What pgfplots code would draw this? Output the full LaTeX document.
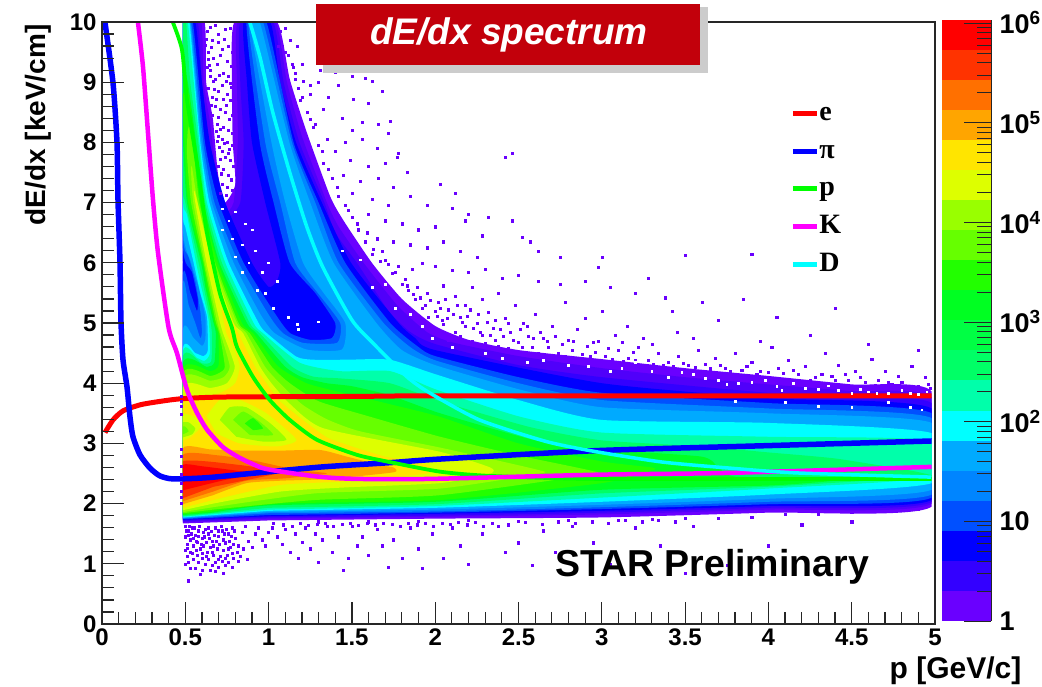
\documentclass[border=0pt]{standalone}
\usepackage{fontspec}
\usepackage{pgfplots}
\pgfplotsset{compat=1.18}
\setmainfont{Liberation Sans}
\newfontfamily\legfont{Liberation Serif}
\definecolor{c1}{HTML}{6A00FF}\definecolor{c2}{HTML}{5000FA}\definecolor{c3}{HTML}{3300FF}
\definecolor{c4}{HTML}{0000FF}\definecolor{c5}{HTML}{0050FF}\definecolor{c6}{HTML}{0085FF}
\definecolor{c7}{HTML}{00AAFF}\definecolor{c8}{HTML}{00FFFF}\definecolor{c9}{HTML}{00FFAA}
\definecolor{c10}{HTML}{00FF66}\definecolor{c11}{HTML}{00FF22}\definecolor{c12}{HTML}{22FF00}
\definecolor{c13}{HTML}{66FF00}\definecolor{c14}{HTML}{99FF00}\definecolor{c15}{HTML}{DDFF00}
\definecolor{c16}{HTML}{FFE500}\definecolor{c17}{HTML}{FFA500}\definecolor{c18}{HTML}{FF7000}
\definecolor{c19}{HTML}{FF3300}\definecolor{c20}{HTML}{FF0000}\definecolor{c10b}{HTML}{00FF44}
\definecolor{banner}{HTML}{C2000B}\definecolor{kaon}{HTML}{FF00FF}\definecolor{proton}{HTML}{00FF00}
\newcommand{\expo}[1]{\raisebox{9pt}{\fontsize{19}{19}\bfseries\selectfont #1}}
\begin{document}
\begin{tikzpicture}
\useasboundingbox (0,0) rectangle (1042pt,687pt);
% histogram contours
\begin{axis}[
  at={(102pt,63pt)},anchor=south west,scale only axis,width=833pt,height=602pt,
  xmin=0,xmax=5,ymin=0,ymax=10,hide axis,
  every axis plot/.append style={draw=none,forget plot,smooth,tension=0.35},
]
\clip (axis cs:.485,0) rectangle (axis cs:4.98,10);
\addplot[fill=c1] coordinates {(.485,1.67)(.485,10)(.615,10)(.625,9)(.665,8.4)(.695,7.5)(.735,7)(.80,7.3)(.785,8)(.78,9)(.795,10)(1.05,10)(1.127,9.05)(1.23,8.16)(1.37,7.1)(1.45,6.7)(1.62,6)(1.8,5.4)(2,4.95)(2.2,4.72)(2.5,4.55)(3,4.4)(3.5,4.25)(4,4.12)(4.5,3.98)(4.98,3.86)(4.98,1.95)(4,1.85)(3,1.77)(2,1.75)(1,1.72)};
\addplot[fill=c2] coordinates {(.485,1.69)(.485,10)(.595,10)(.61,9)(.65,8.3)(.685,7.5)(.73,6.85)(.79,7)(.815,8)(.81,9)(.815,10)(1.04,10)(1.11,9)(1.2,8.1)(1.35,7)(1.42,6.6)(1.57,6)(1.77,5.3)(1.95,4.85)(2.1,4.68)(2.5,4.45)(3,4.25)(3.5,4.1)(4,3.98)(4.5,3.87)(4.98,3.76)(4.98,2)(4,1.9)(3,1.82)(2,1.78)(1,1.75)};
\addplot[fill=c3] coordinates {(.485,1.71)(.485,10)(.575,10)(.6,9)(.635,8.2)(.675,7.5)(.74,6.75)(.83,7)(.85,8)(.83,9)(.83,10)(1.027,10)(1.09,9)(1.185,8)(1.335,7)(1.4,6.5)(1.53,6)(1.72,5.2)(1.85,4.85)(2,4.65)(2.5,4.3)(3,4.1)(4,3.84)(4.98,3.67)(4.98,2.03)(4,1.93)(3,1.85)(2,1.8)(1,1.77)};
\addplot[fill=c4] coordinates {(.485,1.73)(.485,5.9)(.51,5.87)(.5,6.05)(.485,6.15)(.485,10)(.56,10)(.6,9)(.647,8)(.74,7)(.9,6)(1,5.6)(1.05,5.7)(1.07,6)(.98,7)(.9,8)(.87,9)(.85,10)(1.01,10)(1.07,9)(1.165,8)(1.32,7)(1.495,6)(1.78,5)(1.88,4.75)(2,4.55)(3,4)(4,3.75)(4.98,3.58)(4.98,2.06)(4,1.96)(3,1.88)(2,1.83)(1,1.79)};
\addplot[fill=c5] coordinates {(.485,1.74)(.485,5.75)(.53,5.5)(.57,5.2)(.575,5.4)(.54,5.85)(.485,6.3)(.485,10)(.545,10)(.618,8)(.7,7)(.85,6)(1.05,5.11)(1.13,4.83)(1.25,4.72)(1.38,4.75)(1.4,5)(1.28,5.5)(1.127,6)(1.03,7)(.947,8)(.867,10)(.987,10)(1.15,8)(1.3,7)(1.46,6)(1.73,5)(1.9,4.6)(2,4.45)(2.5,4.1)(3,3.84)(4,3.67)(4.98,3.5)(4.98,2.1)(4,1.99)(3,1.91)(2,1.85)(1,1.81)};
\addplot[fill=c6] coordinates {(.485,1.75)(.485,5.6)(.52,5.3)(.56,5)(.59,4.75)(.6,4.85)(.59,5.2)(.56,5.7)(.52,6.1)(.485,6.5)(.485,10)(.535,10)(.608,8)(.675,7)(.82,6)(1.007,5.11)(1.087,4.83)(1.207,4.67)(1.41,4.67)(1.43,5)(1.295,5.5)(1.16,6)(1.07,7)(.98,8)(.877,10)(.967,10)(1.14,8)(1.28,7)(1.42,6)(1.69,5)(1.85,4.6)(2,4.38)(2.5,4)(3,3.72)(4,3.58)(4.98,3.42)(4.98,2.15)(4,2.03)(3,1.94)(2,1.87)(1,1.84)};
\addplot[fill=c7] coordinates {(.485,1.76)(.485,4.85)(.55,4.75)(.6,4.62)(.62,4.72)(.62,5.1)(.58,5.6)(.535,6)(.485,6.6)(.485,10)(.53,10)(.598,8)(.66,7)(.79,6)(.95,5.15)(1.037,4.83)(1.227,4.56)(1.44,4.56)(1.46,5)(1.33,5.5)(1.207,6)(1.1,7)(1.017,8)(.887,10)(.947,10)(1.125,8)(1.25,7)(1.39,6)(1.647,5)(1.8,4.55)(2,4.3)(2.5,3.9)(3,3.6)(4,3.5)(4.98,3.34)(4.98,2.23)(4,2.08)(3,1.98)(2,1.9)(1,1.86)};
\addplot[fill=c8] coordinates {(.485,1.77)(.485,4.55)(.56,4.5)(.61,4.45)(.635,4.55)(.63,5.1)(.59,5.5)(.55,6)(.5,6.6)(.485,6.9)(.485,10)(.525,10)(.59,8)(.645,7)(.76,6)(.94,5)(.99,4.83)(1.167,4.44)(1.27,4.39)(1.47,4.39)(1.727,4.39)(2,4.15)(2.5,3.72)(3,3.39)(4,3.34)(4.98,3.17)(4.98,2.34)(4,2.15)(3,2.03)(2,1.93)(1,1.88)};
\addplot[fill=c9] coordinates {(.485,1.78)(.485,4.5)(.57,4.42)(.615,4.37)(.648,4.5)(.64,5.05)(.6,5.55)(.565,6)(.51,6.8)(.485,7.1)(.485,10)(.515,10)(.585,8)(.63,7)(.74,6)(.91,5)(.967,4.83)(1.187,4.34)(1.43,4.2)(1.73,4.2)(2,3.9)(2.5,3.45)(3,3.18)(4,3.11)(4.98,3.05)(4.98,2.44)(4,2.25)(3,2.1)(2,1.96)(1,1.9)};
\addplot[fill=c10] coordinates {(.485,1.79)(.485,4.42)(.6,4.33)(.655,4.36)(.66,4.8)(.65,5.05)(.61,5.6)(.58,6)(.5,7)(.485,7.3)(.485,10)(.505,10)(.53,9)(.578,8)(.62,7)(.72,6)(.887,5)(.947,4.83)(1.137,4.28)(1.267,4.11)(1.427,4.08)(1.727,4)(2.03,3.7)(2.57,3.27)(3,3.05)(3.6,2.95)(4,2.85)(4.4,2.75)(4.85,2.55)(4.98,2.47)(4.98,2.45)(4,2.28)(3,2.17)(2,1.99)(1,1.93)};
\addplot[fill=c11] coordinates {(.485,1.81)(.485,4.32)(.63,4.27)(.675,4.35)(.683,4.83)(.665,5.05)(.62,5.6)(.595,6)(.51,7)(.49,7.8)(.485,8.2)(.485,9.2)(.515,9)(.565,8)(.61,7)(.705,6)(.87,5)(.927,4.83)(1.097,4.28)(1.2,4.1)(1.347,4)(1.5,3.95)(1.727,3.8)(2.03,3.5)(2.6,3.05)(3,2.9)(3.6,2.78)(3.7,2.6)(3.8,2.45)(4.4,2.42)(4.4,2.38)(4,2.3)(3,2.23)(2,2.03)(1,1.97)(.667,1.85)};
\addplot[fill=c12] coordinates {(.485,1.82)(.485,4.22)(.65,4.2)(.7,4.3)(.697,4.83)(.675,5)(.63,5.6)(.605,6)(.518,7)(.495,8)(.485,8.5)(.485,8.8)(.52,8.8)(.555,8)(.6,7)(.695,6)(.84,5)(.907,4.83)(1.057,4.28)(1.227,4)(1.43,3.85)(1.73,3.65)(2.03,3.44)(2.5,3)(3,2.7)(3.3,2.6)(3.3,2.55)(3,2.34)(2.03,2.06)(1.07,2)(.667,1.87)};
\addplot[fill=c13] coordinates {(.485,1.84)(.485,4.15)(.65,4.12)(.71,4.18)(.737,4.28)(.705,4.83)(.68,5.05)(.61,6)(.535,7)(.51,7.8)(.515,8.2)(.53,8.3)(.545,8)(.585,7)(.68,6)(.82,5)(.887,4.83)(1.017,4.28)(1.127,4)(1.3,3.7)(1.6,3.45)(2.03,3.11)(2.5,2.8)(2.93,2.55)(2.93,2.48)(2.03,2.14)(1.28,2.06)(.667,1.9)};
\addplot[fill=c14] coordinates {(.485,1.86)(.485,4.06)(.65,4.04)(.73,4.1)(.767,4.28)(.711,4.83)(.69,5.05)(.617,6)(.548,7)(.535,7.5)(.54,7.6)(.575,7)(.67,6)(.81,5)(.867,4.83)(.977,4.28)(1.067,4)(1.2,3.65)(1.35,3.4)(1.55,3.2)(2.03,2.93)(2.4,2.7)(2.63,2.55)(2.63,2.5)(2.03,2.25)(1.28,2.17)(.667,1.94)};
\addplot[fill=c15] coordinates {(.485,1.89)(.485,3.92)(.65,3.92)(.75,4)(.797,4.28)(.727,4.83)(.7,5.1)(.627,6)(.56,7)(.552,7.2)(.565,7.1)(.66,6)(.79,5)(.847,4.83)(.947,4.28)(1.017,4)(1.13,3.65)(1.33,3.25)(2.03,2.86)(2.33,2.6)(2.33,2.5)(2.03,2.34)(1.47,2.27)(1.07,2.2)(.667,2)};
\addplot[fill=c16] coordinates {(.485,1.93)(.485,3.72)(.6,3.75)(.72,3.85)(.8,4)(.827,4.28)(.79,4.6)(.747,4.83)(.72,5.2)(.74,5.25)(.817,4.83)(.917,4.28)(.987,4)(1.06,3.72)(1.2,3.4)(1.35,3.1)(1.5,2.95)(1.7,2.78)(1.95,2.65)(1.95,2.5)(1.47,2.37)(1.07,2.31)(.667,2.06)};
% islands of lower counts inside the ridge
\addplot[fill=c15] coordinates {(.627,3.45)(.707,3.72)(.827,3.72)(.987,3.5)(1.167,3.06)(1.047,2.95)(.827,3)(.687,3.17)};
\addplot[fill=c14] coordinates {(.707,3.39)(.767,3.6)(.867,3.6)(1.007,3.34)(1.107,3.06)(.967,3.03)(.807,3.11)};
\addplot[fill=c13] coordinates {(.787,3.39)(.847,3.53)(.947,3.36)(1.027,3.14)(.887,3.14)};
\addplot[fill=c12] coordinates {(.857,3.33)(.907,3.42)(.967,3.25)(.907,3.22)};
\addplot[fill=c15] coordinates {(.485,3.05)(.53,3.1)(.6,3.3)(.55,3.45)(.485,3.5)};
\addplot[fill=c14] coordinates {(.485,3.1)(.54,3.15)(.56,3.25)(.52,3.35)(.485,3.35)};
\addplot[fill=c13] coordinates {(.485,3.15)(.52,3.2)(.5,3.28)(.485,3.28)};
\addplot[fill=c17] coordinates {(.485,1.99)(.485,2.92)(.65,2.9)(.85,2.88)(1.07,2.88)(1.31,2.89)(1.47,2.78)(1.67,2.64)(1.75,2.6)(1.75,2.52)(1.367,2.41)(1.07,2.38)(.867,2.34)(.667,2.14)};
\addplot[fill=c18] coordinates {(.485,2.04)(.485,2.81)(.7,2.8)(.9,2.72)(1.17,2.56)(1.35,2.5)(1.1,2.42)(.867,2.38)(.667,2.2)};
\addplot[fill=c19] coordinates {(.485,2.09)(.485,2.7)(.83,2.64)(1.07,2.53)(.97,2.45)(.67,2.28)};
\addplot[fill=c20] coordinates {(.485,2.22)(.485,2.64)(.6,2.62)(.8,2.55)(.93,2.5)(.75,2.4)(.6,2.3)};
\end{axis}
\begin{axis}[
  at={(102pt,63pt)},anchor=south west,scale only axis,width=833pt,height=602pt,
  xmin=0,xmax=5,ymin=0,ymax=10,axis on top,
  xtick={0,0.5,1,1.5,2,2.5,3,3.5,4,4.5,5},
  xticklabels={0,0.5,1,1.5,2,2.5,3,3.5,4,4.5,5},
  ytick={0,1,2,3,4,5,6,7,8,9,10},
  yticklabels={0,1,2,3,4,5,6,7,8,9,10},
  minor x tick num=4,minor y tick num=4,
  tick align=inside,xtick pos=bottom,ytick pos=left,
  major tick length=22pt,minor tick length=12pt,
  axis line style={line width=1.4pt,black!85},
  tick style={line width=1.2pt,black!85},
  xticklabel style={font=\fontsize{24}{24}\bfseries\selectfont,yshift=-1pt},
  yticklabel style={font=\fontsize{24}{24}\bfseries\selectfont,xshift=-2pt},
  xlabel={p [GeV/c]},
  x label style={at={(axis description cs:1.108,-0.078)},anchor=east,font=\fontsize{30}{30}\bfseries\selectfont},
  ylabel={dE/dx [keV/cm]},
  y label style={at={(axis description cs:-0.0767,0.829)},anchor=center,font=\fontsize{28}{28}\bfseries\selectfont},
  legend style={at={(axis cs:4.13,7.18)},anchor=west,draw=none,fill=none,
    font=\legfont\fontsize{28}{28}\bfseries\selectfont,row sep=11.7pt,inner sep=0pt,
    nodes={inner sep=0pt,text height=17pt,text depth=9pt,anchor=base west}},
  legend cell align=left,
  legend image code/.code={\draw[#1,line width=5pt] (0pt,7pt) -- (24pt,7pt);},
]
% scattered counts
\addplot[only marks,mark=square*,mark size=1.05pt,c1,forget plot] coordinates {
(.63,9.85)(.65,9.92)(.66,9.7)(.68,9.95)(.70,9.8)(.74,9.88)(.77,9.9)(.76,9.6)(.72,9.55)(.64,9.5)(.67,9.4)(.69,9.3)(.71,9.45)(.75,9.35)(.78,9.5)(.63,9.25)(.65,9.1)(.68,9.05)(.73,9.15)(.76,9.1)(.79,9.2)(.64,8.9)(.66,8.75)(.70,8.85)(.72,8.95)(.75,8.8)(.77,8.7)(.68,8.6)(.71,8.55)(.74,8.5)(.78,8.45)(.66,8.45)(.69,8.3)(.73,8.25)(.76,8.2)(.72,8.05)(.70,8.1)(.75,8.0)(.78,7.95)(.72,7.85)(.74,7.75)(.77,7.7)(.70,7.6)(.73,7.55)(.76,7.45)(.79,7.6)(.72,7.3)(.75,7.25)(.71,7.15)(.78,7.2)(.62,9.62)(.655,9.58)(.695,9.66)(.735,9.72)(.785,9.75)(.645,9.28)(.705,9.12)(.745,9.02)(.675,8.88)(.775,8.92)(.655,8.62)(.725,8.72)(.765,8.38)(.685,8.18)(.745,8.62)(.705,7.92)(.755,7.82)(.715,7.48)(.775,7.38)(.745,7.12)(.628,9.72)(.637,9.38)(.652,9.2)(.668,9.02)(.683,8.72)(.697,8.42)(.712,8.22)(.693,8.02)(.708,7.72)(.735,7.98)(.765,7.88)(.782,8.15)(.788,8.62)(.768,8.98)(.792,9.62)(.778,9.27)
(1.1,9.9)(1.13,9.7)(1.07,9.85)(1.17,9.6)(1.12,9.45)(1.2,9.3)(1.15,9.25)(1.25,8.95)(1.06,9.6)(1.16,9.05)(1.21,9.02)(1.19,8.7)(1.31,9.2)(1.4,9.17)(1.47,9.2)(1.5,9.1)(1.3,9.0)(1.42,8.95)(1.58,9.07)(1.62,9.02)(1.68,8.85)(1.25,8.8)(1.36,8.75)(1.51,8.72)(1.6,8.65)(1.33,8.55)(1.44,8.4)(1.56,8.33)(1.66,8.3)(1.73,8.35)(1.5,8.2)(1.28,8.3)(1.72,8.15)(1.35,8.05)(1.46,8.0)(1.56,8.05)(1.65,7.9)(1.78,7.82)(1.77,7.75)(2.46,7.82)(2.42,7.75)(1.4,7.85)(1.49,7.7)(1.6,7.6)(1.7,7.65)(1.45,7.45)(1.55,7.35)(1.66,7.4)(1.75,7.25)(1.83,7.5)(2.03,7.3)(2.12,7.15)(1.85,7.1)(1.95,6.95)(1.5,7.15)(1.62,7.05)(1.72,6.95)(2.1,6.9)(2.2,6.8)(2.18,6.7)(2.32,6.75)(2.46,6.7)(1.6,6.8)(1.7,6.7)(1.8,6.65)(1.9,6.55)(2.0,6.6)(2.28,6.45)(2.52,6.42)(2.57,6.35)(1.65,6.4)(1.75,6.35)(1.85,6.3)(1.95,6.25)(2.05,6.35)(2.15,6.2)(2.25,6.1)(2.75,6.1)(2.62,6.2)(3.0,6.1)(3.5,6.12)(3.9,6.15)(2.98,5.92)
(1.08,9.6)(1.14,9.3)(1.18,8.9)(1.23,8.5)(1.27,8.25)(1.3,7.95)(1.33,7.65)(1.38,7.4)(1.42,7.1)(1.46,6.95)(1.5,6.75)(1.54,6.55)(1.58,6.35)(1.63,6.22)(1.68,6.2)(1.72,5.98)(1.76,5.85)(1.8,5.65)(1.84,5.55)(1.88,5.4)(1.92,5.25)(1.96,5.1)(2,5.2)(2.04,5.05)(1.1,9.5)(1.16,9.15)(1.2,8.75)(1.25,8.38)(1.32,7.85)(1.36,7.55)(1.41,7.25)(1.48,6.88)(1.53,6.65)(1.59,6.5)
(1.62,6.15)(1.67,6.02)(1.7,6.05)(1.74,5.82)(1.78,5.95)(1.82,5.72)(1.86,5.9)(1.89,5.6)(1.92,6.0)(1.95,5.5)(2.0,5.95)(2.02,5.35)(2.05,5.62)(2.08,5.22)(2.1,5.88)(2.12,5.45)(2.15,5.1)(2.18,5.3)(2.2,5.85)(2.22,5.6)(2.25,5.0)(2.28,5.4)(2.3,5.9)(2.32,5.18)(2.35,4.92)(2.38,5.5)(2.4,5.75)(2.42,5.08)(2.45,4.85)(2.48,5.3)(2.5,5.8)(2.53,5.0)(2.56,4.78)(2.6,5.15)(2.62,5.7)(2.65,4.75)(2.7,4.95)(2.75,5.65)(2.78,5.35)(2.8,4.72)(2.85,4.9)(2.9,5.7)(2.95,4.68)(3.0,5.2)(3.05,5.6)(3.08,4.8)(3.15,4.95)(3.2,5.5)(3.28,5.75)(3.3,4.65)(3.38,5.42)(3.45,4.85)(3.6,5.35)(3.7,5.05)(3.85,5.4)(4.05,5.1)(4.4,5.25)(2.9,5.08)(3.42,5.2)
(1.83,5.62)(1.87,5.48)(1.91,5.42)(1.94,5.3)(1.97,5.38)(2.01,5.12)(2.03,5.25)(2.06,5.4)(2.07,5.08)(2.11,5.15)(2.13,5.3)(2.16,5.02)(2.19,5.12)(2.21,5.22)(2.23,4.92)(2.26,5.15)(2.27,4.85)(2.31,5.02)(2.33,4.8)(2.36,5.05)(2.39,4.9)(2.41,4.78)(2.44,5.0)(2.47,4.72)(2.51,4.9)(2.55,4.95)(2.59,4.75)(2.63,4.85)(2.67,4.7)(2.72,4.78)(2.76,4.65)(2.83,4.7)(2.91,4.62)(2.98,4.7)(3.04,4.58)(3.12,4.68)(3.19,4.52)
(2.05,4.98)(2.12,4.85)(2.18,4.95)(2.28,4.8)(2.36,4.72)(2.5,4.68)(2.58,4.6)(2.68,4.6)(2.74,4.5)(2.82,4.55)(2.88,4.48)(2.96,4.52)(3.02,4.45)(3.1,4.55)(3.16,4.42)(3.22,4.6)(3.28,4.38)(3.34,4.5)(3.4,4.35)(3.46,4.45)(3.52,4.3)(3.58,4.55)(3.62,4.32)(3.68,4.42)(3.74,4.25)(3.8,4.5)(3.84,4.22)(3.9,4.35)(3.95,4.2)(4.02,4.6)(4.06,4.25)(4.12,4.38)(4.18,4.15)(4.22,4.28)(4.28,4.1)(4.34,4.5)(4.38,4.12)(4.42,4.3)(4.48,4.05)(4.52,4.2)(4.58,4.02)(4.62,4.4)(4.66,4.05)(4.7,4.2)(4.74,3.98)(4.78,4.12)(4.82,3.95)(4.86,4.28)(4.9,3.95)(4.94,4.1)(4.97,3.92)(3.25,4.75)(3.55,4.75)(3.95,4.7)(4.25,4.8)(4.6,4.65)(4.9,4.55)
(2.02,4.8)(2.08,4.72)(2.15,4.78)(2.22,4.7)(2.3,4.66)(2.38,4.62)(2.44,4.58)(2.52,4.6)(2.62,4.5)(2.7,4.46)(2.78,4.44)(2.86,4.42)(2.93,4.44)(3.06,4.4)(3.13,4.36)(3.2,4.38)(3.31,4.32)(3.37,4.3)(3.43,4.28)(3.49,4.33)(3.56,4.26)(3.65,4.24)(3.71,4.3)(3.77,4.2)(3.87,4.28)(3.93,4.15)(4.0,4.18)(4.09,4.16)(4.15,4.22)(4.25,4.05)(4.32,4.15)(4.4,4.05)(4.46,4.15)(4.55,4.1)(4.64,3.96)(4.72,4.02)(4.8,4.02)(4.88,3.9)(4.96,3.98)
(.5,1.62)(.52,1.55)(.54,1.6)(.56,1.48)(.58,1.55)(.6,1.42)(.62,1.58)(.64,1.5)(.66,1.38)(.68,1.6)(.7,1.46)(.72,1.55)(.74,1.35)(.76,1.5)(.78,1.6)(.8,1.42)(.82,1.3)(.84,1.52)(.86,1.62)(.88,1.38)(.9,1.28)(.92,1.5)(.94,1.6)(.96,1.4)(.98,1.3)(1,1.52)(.5,1.45)(.51,1.32)(.53,1.4)(.55,1.3)(.57,1.36)(.59,1.25)(.61,1.3)(.63,1.2)(.65,1.28)(.67,1.15)(.69,1.25)(.71,1.12)(.73,1.22)(.75,1.15)(.77,1.28)(.79,1.1)(.81,1.2)(.83,1.12)(.85,1.25)(.87,1.08)(.5,1.22)(.51,1.12)(.52,1.02)(.53,1.2)(.55,1.08)(.57,1.15)(.58,1.02)(.6,1.1)(.62,1.0)(.64,1.08)(.66,.98)(.68,1.02)(.7,.95)(.72,1.05)(.74,.98)(.76,1.02)(.5,1.0)(.53,.93)(.56,.92)(.6,.9)(.65,.9)(.52,.72)(.59,.82)(.68,.88)(.73,.85)(.78,.95)
(.505,1.55)(.515,1.48)(.525,1.62)(.535,1.5)(.545,1.42)(.555,1.6)(.565,1.38)(.575,1.46)(.585,1.62)(.595,1.33)(.605,1.52)(.615,1.45)(.625,1.36)(.635,1.6)(.645,1.42)(.655,1.54)(.665,1.3)(.675,1.47)(.685,1.38)(.695,1.55)(.705,1.33)(.715,1.62)(.725,1.4)(.735,1.5)(.745,1.58)(.755,1.25)(.765,1.38)(.775,1.46)(.785,1.33)(.795,1.55)(.51,1.26)(.54,1.18)(.565,1.22)(.6,1.18)(.625,1.12)(.66,1.2)(.7,1.08)(.74,1.1)(.78,1.18)(.82,1.05)
(1.02,1.6)(1.05,1.45)(1.08,1.32)(1.1,1.58)(1.13,1.2)(1.16,1.5)(1.18,1.1)(1.2,1.36)(1.22,1.6)(1.25,1.25)(1.28,1.5)(1.3,1.02)(1.32,1.4)(1.35,1.62)(1.38,1.2)(1.42,1.45)(1.45,.9)(1.48,1.1)(1.5,1.62)(1.53,1.3)(1.56,1.45)(1.6,1.15)(1.65,1.58)(1.68,1.3)(1.72,.95)(1.75,1.4)(1.8,1.1)(1.85,1.6)(1.9,1.25)(1.92,.92)(1.98,1.5)(2.05,1.1)(2.1,1.6)(2.15,1.3)(2.2,1.0)(2.28,1.5)(2.38,1.62)(2.42,1.2)(2.5,1.35)(2.58,.98)(2.65,1.55)(2.72,1.2)(2.82,1.62)(2.95,1.35)(3.05,1.0)(3.2,1.6)(3.35,1.3)(3.5,.85)(3.55,1.62)(3.75,.98)(4.0,1.3)(4.2,1.65)(4.5,1.7)
(1.03,1.68)(1.09,1.65)(1.14,1.62)(1.19,1.67)(1.24,1.64)(1.29,1.66)(1.34,1.68)(1.39,1.62)(1.44,1.66)(1.49,1.68)(1.54,1.64)(1.59,1.68)(1.64,1.65)(1.69,1.68)(1.74,1.66)(1.79,1.62)(1.84,1.68)(1.89,1.65)(1.94,1.68)(1.99,1.62)(2.04,1.68)(2.09,1.66)(2.14,1.69)(2.19,1.65)(2.24,1.69)(2.29,1.62)(2.34,1.68)(2.44,1.65)(2.54,1.69)(2.64,1.66)(2.74,1.7)(2.84,1.67)(2.94,1.7)(3.04,1.68)(3.14,1.72)(3.24,1.7)(3.34,1.72)(3.44,1.7)
(1.3,1.7)(1.6,1.7)(1.9,1.71)(2.2,1.72)(2.5,1.71)(2.8,1.72)(3.1,1.73)(3.3,1.74)(3.5,1.75)(3.7,1.76)(3.9,1.78)(4.1,1.82)(4.3,1.83)(4.5,1.85)(4.7,1.88)(4.9,1.9)
(.478,2.0)(.478,2.1)(.478,2.2)(.478,2.34)(.478,2.48)(.478,2.62)(.478,2.78)(.478,2.9)(.478,3.62)(.478,3.7)(.478,3.78)(.478,3.48)
};
% white gaps
\addplot[only marks,mark=square*,mark size=.9pt,white,forget plot] coordinates {
(.72,6.9)(.76,6.7)(.8,6.85)(.78,6.4)(.72,6.55)(.84,6.3)(.8,6.1)(.88,6.0)(.84,5.85)(.92,6.2)(.96,5.85)(.93,5.55)(1.03,5.25)(1.12,5.1)(1.17,4.98)(1.3,5.02)(.9,6.55)(.86,6.65)(1.05,5.7)(.98,5.5)(1.0,6.0)(1.18,4.9)
(1.44,6.2)(1.55,6.05)(1.62,5.6)(1.7,5.65)(1.76,5.25)(1.85,5.15)(1.92,4.95)(1.98,4.75)(2.3,4.5)(2.55,4.35)(2.8,4.3)(3.05,4.2)(3.2,4.35)(3.4,4.1)(3.55,4.15)(3.7,4.05)(3.75,3.98)(3.9,4.02)(4.05,3.95)(4.15,4.0)(4.3,3.9)(4.42,3.88)(4.55,3.9)(4.65,3.84)(4.8,3.88)(4.9,3.82)
(2.1,4.6)(2.4,4.42)(2.65,4.38)(2.92,4.28)(3.12,4.25)(3.3,4.2)(3.48,4.18)(3.62,4.08)(3.82,4.0)(3.98,4.05)(4.08,3.88)(4.22,3.92)(4.36,3.96)(4.5,3.83)(4.6,3.86)(4.72,3.84)(4.85,3.84)(4.95,3.86)
(3.8,3.7)(4.1,3.68)(4.3,3.62)(4.5,3.6)(4.72,3.68)(4.85,3.6)(4.92,3.56)
};
% expected dE/dx curves
\addplot[c20,line width=5pt,smooth,tension=.4] coordinates {(.018,3.18)(.066,3.39)(.126,3.54)(.228,3.64)(.33,3.69)(.47,3.74)(.725,3.77)(1.53,3.78)(2.03,3.79)(4.98,3.79)};
\addlegendentry{e}
\addplot[c4,line width=5.5pt,smooth,tension=.4] coordinates {(.018,9.99)(.066,8.99)(.09,8)(.096,7.05)(.108,6)(.114,5.02)(.126,4.39)(.15,3.94)(.168,3.44)(.186,3.11)(.228,2.81)(.288,2.59)(.348,2.46)(.426,2.41)(.63,2.43)(.93,2.51)(1.325,2.61)(1.73,2.68)(2.03,2.74)(2.97,2.88)(3.96,2.96)(4.98,3.04)};
\addlegendentry{π}
\addplot[proton,line width=3.8pt,smooth,tension=.4] coordinates {(.426,9.99)(.48,9.54)(.51,8.71)(.57,7.66)(.63,6.5)(.707,5.5)(.78,4.92)(.81,4.6)(.905,4.11)(1.007,3.72)(1.127,3.39)(1.29,3.06)(1.53,2.81)(1.727,2.69)(2.03,2.53)(2.33,2.46)(3,2.41)(4.98,2.41)};
\addlegendentry{p}
\addplot[kaon,line width=4.5pt,smooth,tension=.4] coordinates {(.216,9.99)(.246,9.26)(.276,8.16)(.306,7.05)(.336,6.17)(.4,4.92)(.45,4.5)(.51,3.89)(.57,3.51)(.63,3.23)(.725,2.94)(.827,2.76)(.965,2.59)(1.127,2.51)(1.325,2.44)(1.53,2.41)(1.97,2.41)(2.97,2.48)(3.765,2.51)(4.98,2.61)};
\addlegendentry{K}
\addplot[c8,line width=3.5pt,smooth,tension=.4] coordinates {(.887,10)(.947,9.43)(1.025,8.5)(1.127,7.5)(1.229,6.6)(1.325,5.93)(1.5,5.05)(1.625,4.67)(1.829,4.11)(1.966,3.84)(2.266,3.39)(2.668,3.03)(2.97,2.86)(3.363,2.69)(3.765,2.59)(4.167,2.51)(4.976,2.44)};
\addlegendentry{D}
\end{axis}
% colour scale
\begin{axis}[
  at={(942pt,66pt)},anchor=south west,scale only axis,width=49pt,height=601pt,
  xmin=0,xmax=1,ymode=log,ymin=1,ymax=1071519,axis on top,
  axis x line=none,axis y line=right,y axis line style={-,line width=1pt,black!85},
  ytick={1,10,100,1000,10000,100000,1000000},
  yticklabels={1,10,10\expo{2},10\expo{3},10\expo{4},10\expo{5},10\expo{6}},
  minor ytick={2,3,4,5,6,7,8,9,20,30,40,50,60,70,80,90,200,300,400,500,600,700,800,900,2000,3000,4000,5000,6000,7000,8000,9000,20000,30000,40000,50000,60000,70000,80000,90000,200000,300000,400000,500000,600000,700000,800000,900000},
  tick align=inside,major tick length=27pt,minor tick length=14pt,
  tick style={line width=.9pt,black!85},
  yticklabel style={font=\fontsize{27}{27}\bfseries\selectfont,xshift=5pt},
]
\addplot[fill=c1,draw=none] coordinates {(0,1)(1,1)(1,2)(0,2)};
\addplot[fill=c3,draw=none] coordinates {(0,2)(1,2)(1,4.01)(0,4.01)};
\addplot[fill=c4,draw=none] coordinates {(0,4.01)(1,4.01)(1,8.03)(0,8.03)};
\addplot[fill=c5,draw=none] coordinates {(0,8.03)(1,8.03)(1,16.1)(0,16.1)};
\addplot[fill=c6,draw=none] coordinates {(0,16.1)(1,16.1)(1,32.2)(0,32.2)};
\addplot[fill=c7,draw=none] coordinates {(0,32.2)(1,32.2)(1,64.6)(0,64.6)};
\addplot[fill=c8,draw=none] coordinates {(0,64.6)(1,64.6)(1,129)(0,129)};
\addplot[fill=c9,draw=none] coordinates {(0,129)(1,129)(1,259)(0,259)};
\addplot[fill=c10,draw=none] coordinates {(0,259)(1,259)(1,519)(0,519)};
\addplot[fill=c10b,draw=none] coordinates {(0,519)(1,519)(1,1040)(0,1040)};
\addplot[fill=c11,draw=none] coordinates {(0,1040)(1,1040)(1,2084)(0,2084)};
\addplot[fill=c12,draw=none] coordinates {(0,2084)(1,2084)(1,4176)(0,4176)};
\addplot[fill=c13,draw=none] coordinates {(0,4176)(1,4176)(1,8368)(0,8368)};
\addplot[fill=c14,draw=none] coordinates {(0,8368)(1,8368)(1,16770)(0,16770)};
\addplot[fill=c15,draw=none] coordinates {(0,16770)(1,16770)(1,33600)(0,33600)};
\addplot[fill=c16,draw=none] coordinates {(0,33600)(1,33600)(1,67320)(0,67320)};
\addplot[fill=c17,draw=none] coordinates {(0,67320)(1,67320)(1,134900)(0,134900)};
\addplot[fill=c18,draw=none] coordinates {(0,134900)(1,134900)(1,270400)(0,270400)};
\addplot[fill=c19,draw=none] coordinates {(0,270400)(1,270400)(1,541800)(0,541800)};
\addplot[fill=c20,draw=none] coordinates {(0,541800)(1,541800)(1,1071519)(0,1071519)};
\end{axis}
% banner
\fill[black!20] (323pt,614pt) rectangle (708pt,680pt);
\fill[banner] (316pt,622pt) rectangle (700pt,683pt);
\node[white,font=\fontsize{37}{37}\bfseries\itshape\selectfont] at (509pt,652pt) {dE/dx spectrum};
\node[black,font=\fontsize{37.5}{37.5}\bfseries\selectfont,anchor=center] at (712pt,120pt) {STAR Preliminary};
\end{tikzpicture}
\end{document}
